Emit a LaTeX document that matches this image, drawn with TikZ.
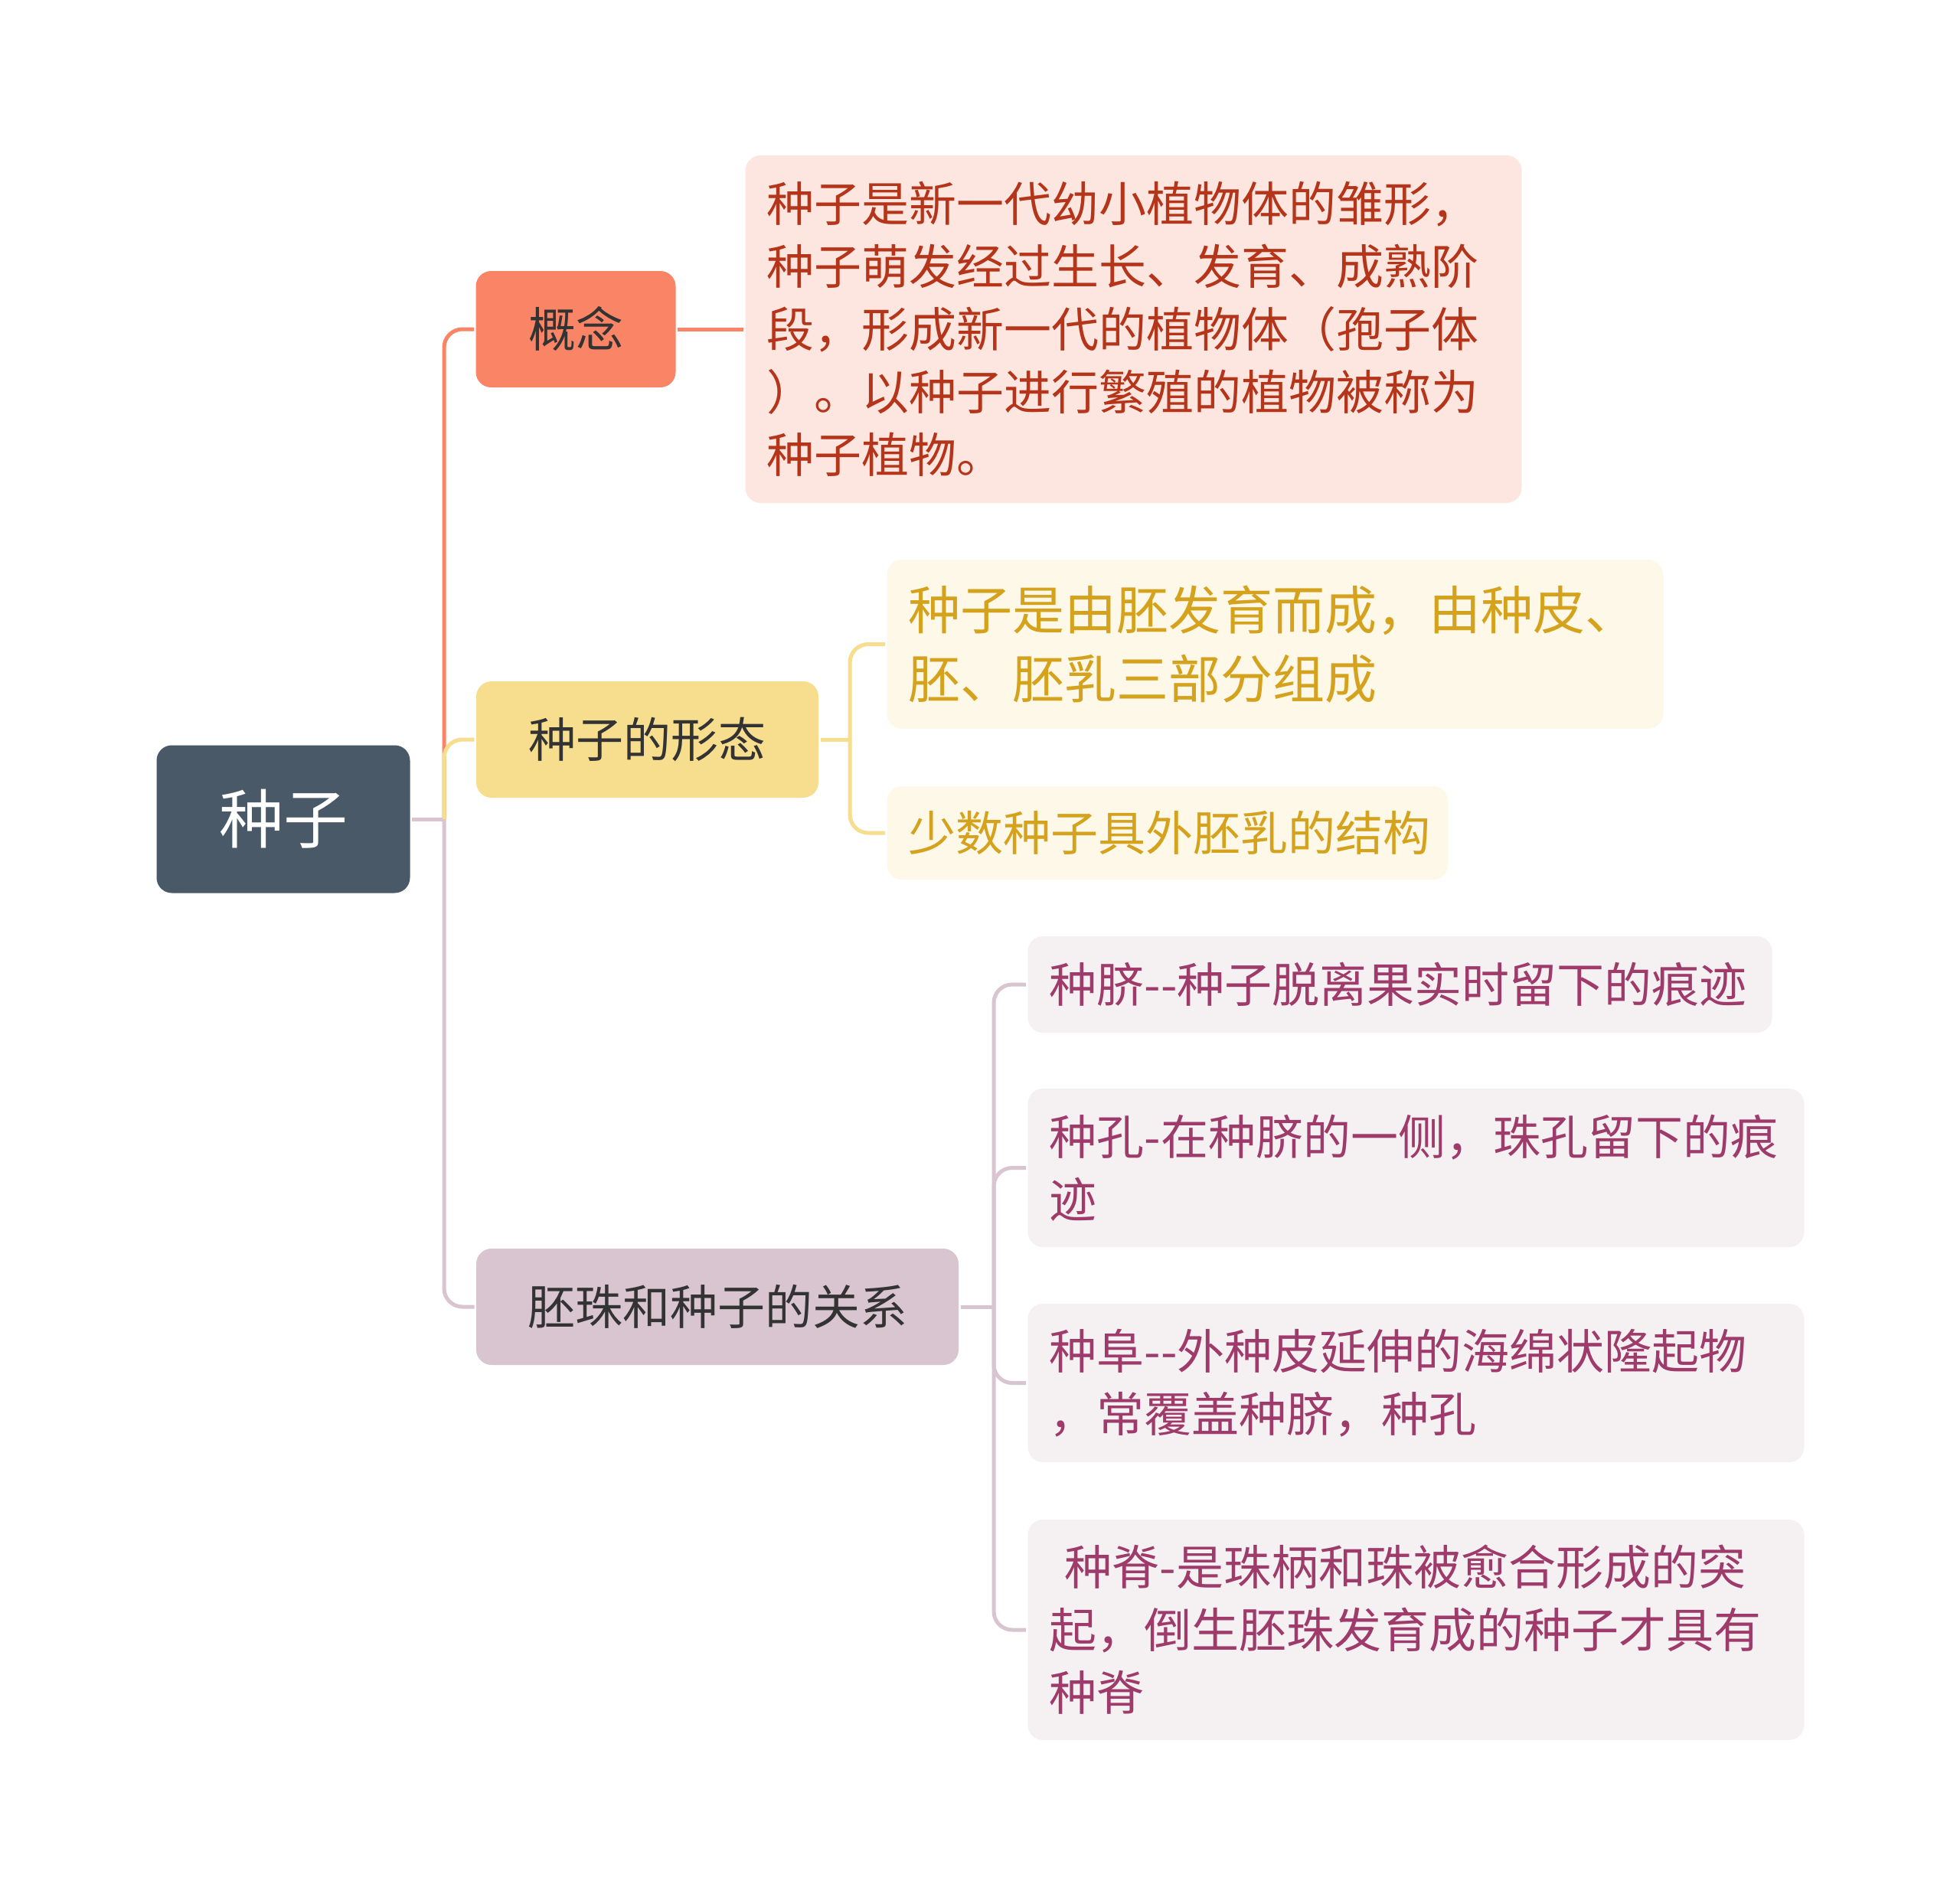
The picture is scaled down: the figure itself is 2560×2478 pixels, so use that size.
\documentclass[tikz,border=0pt]{standalone}
\usepackage{fontspec}
\setmainfont{Noto Sans CJK SC}

\definecolor{rootfill}{HTML}{4A5968}
\definecolor{coral}{HTML}{FA8566}
\definecolor{coralpale}{HTML}{FDE6E0}
\definecolor{coraltext}{HTML}{B5351A}
\definecolor{sand}{HTML}{F7DE8F}
\definecolor{sandpale}{HTML}{FEF8E8}
\definecolor{sandtext}{HTML}{D4A21D}
\definecolor{mauve}{HTML}{D8C5CF}
\definecolor{mauvepale}{HTML}{F5F0F2}
\definecolor{mauvetext}{HTML}{9E3B6B}

\def\cornersep{12pt}

\begin{document}
\begin{tikzpicture}[x=0.5pt,y=-0.5pt,line width=2.5pt]
    \tikzstyle{root}=[fill=rootfill,text=white,rounded corners=10pt,minimum width=165.5pt,minimum height=96.5pt,font=\fontsize{42}{50}\selectfont]
    \tikzstyle{topic}=[rounded corners=10pt,minimum height=76pt,text=black!80,font=\fontsize{31}{41}\selectfont]
    \tikzstyle{leaf}=[rounded corners=10pt,anchor=west,align=left,inner xsep=14pt,inner ysep=0pt,font=\fontsize{31}{41}\selectfont]
    \tikzstyle{branch}=[rounded corners=\cornersep]

    \useasboundingbox[fill=white] (0,0) rectangle (2560,2478);

    % Draw the central node
    \node[root] (S-0) at (370,1070) {种子};

    % Draw the three topics
    \node[topic,fill=coral,minimum width=130.5pt] (T-1) at (752,430) {概念};
    \node[topic,fill=sand,minimum width=223.5pt] (T-2) at (845.5,966) {种子的形态};
    \node[topic,fill=mauve,minimum width=315pt] (T-3) at (937,1707) {胚珠和种子的关系};

    % Draw the leaves of the first topic
    \node[leaf,fill=coralpale,text=coraltext,text width=479pt,minimum height=227pt] (G-1) at (971,430)
        {种子是新一代幼小植物体的雏形，\\种子萌发经过生长、发育、成熟阶\\段，形成新一代的植物体（孢子体\\）。以种子进行繁殖的植物被称为\\种子植物。};

    % Draw the leaves of the second topic
    \node[leaf,fill=sandpale,text=sandtext,text width=479pt,minimum height=110.5pt,font=\fontsize{34}{45}\selectfont] (X-1) at (1156,841.5)
        {种子是由胚发育而成，由种皮、\\胚、胚乳三部分组成};
    \node[leaf,fill=sandpale,text=sandtext,text width=338.5pt,minimum height=61pt] (X-2) at (1156,1088)
        {少数种子具外胚乳的结构};

    % Draw the leaves of the third topic
    \node[leaf,fill=mauvepale,text=mauvetext,text width=458pt,minimum height=63pt] (R-1) at (1340,1286)
        {种脐-{}-种子脱离果实时留下的痕迹};
    \node[leaf,fill=mauvepale,text=mauvetext,text width=479pt,minimum height=103.5pt] (R-2) at (1340,1525.5)
        {种孔-在种脐的一侧，珠孔留下的痕\\迹};
    \node[leaf,fill=mauvepale,text=mauvetext,text width=479pt,minimum height=103.5pt] (R-3) at (1340,1806.5)
        {种阜-{}-外种皮延伸的海绵状隆起物\\，常覆盖种脐，种孔};
    \node[leaf,fill=mauvepale,text=mauvetext,text width=479pt,minimum height=144pt] (R-4) at (1340,2129)
        {\hspace{10pt}种脊-是珠柄和珠被愈合形成的突\\起，倒生胚珠发育成的种子才具有\\种脊};

    % Branch points
    \coordinate (J-0) at (580,1070);
    \coordinate (J-1) at (1110,966);
    \coordinate (J-2) at (1298,1707);

    % Connect the central node with the topics
    \draw[mauve] (S-0.east) -- (J-0);
    \draw[branch,coral] (J-0) |- (T-1.west);
    \draw[branch,mauve] (J-0) |- (T-3.west);
    \draw[branch,sand] (J-0) |- (T-2.west);

    % Connect every topic with its leaves
    \draw[coral] (T-1.east) -- (G-1.west);
    \draw[sand] (T-2.east) -- (J-1);
    \foreach \dest in {1,2}
        \draw[branch,sand] (J-1) |- (X-\dest.west);
    \draw[mauve] (T-3.east) -- (J-2);
    \foreach \dest in {1,...,4}
        \draw[branch,mauve] (J-2) |- (R-\dest.west);
\end{tikzpicture}
\end{document}
